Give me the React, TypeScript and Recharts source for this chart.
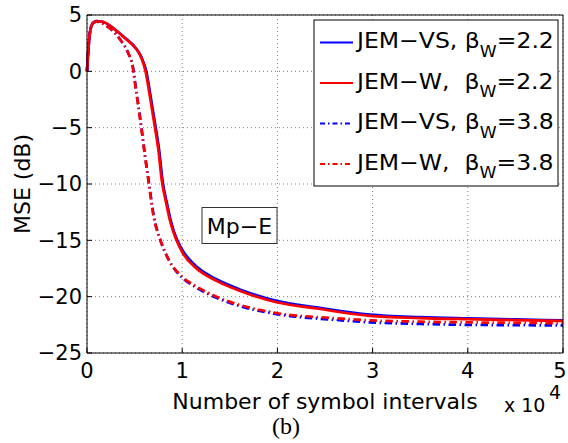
import React from 'react';
import { LineChart, Line, XAxis, YAxis, CartesianGrid } from 'recharts';

const xTicks = [0, 10000, 20000, 30000, 40000, 50000];
const yTicks = [-25, -20, -15, -10, -5, 0, 5];

// [symbol interval, MSE dB]
const vs22: [number, number][] = [
  [0, 0], [300, 3.4], [600, 4.26], [1000, 4.45], [1500, 4.42], [2000, 4.28], [2900, 3.74], [4000, 2.96],
  [5200, 1.98], [5750, 1.2], [6230, 0], [6680, -2.2], [7220, -5.0], [7580, -7.0], [7930, -9.65],
  [8450, -11.9], [8780, -13.2], [9480, -15.0], [10200, -16.1], [11600, -17.4], [13700, -18.5],
  [16200, -19.4], [20000, -20.4], [24100, -20.95], [29700, -21.6], [35000, -21.82], [40000, -21.93],
  [45000, -22.02], [50000, -22.1],
];
const w22: [number, number][] = [
  [0, 0], [300, 3.4], [600, 4.26], [1000, 4.45], [1500, 4.42], [2000, 4.28], [2900, 3.72], [4000, 2.93],
  [5200, 1.95], [5700, 1.2], [6150, 0], [6600, -2.2], [7140, -5.0], [7500, -7.0], [7850, -9.65],
  [8370, -11.9], [8700, -13.2], [9400, -15.0], [10100, -16.2], [11500, -17.5], [13600, -18.6],
  [16100, -19.5], [19900, -20.5], [24100, -21.05], [29700, -21.7], [35000, -21.9], [40000, -22.0],
  [45000, -22.08], [50000, -22.15],
];
const vs38: [number, number][] = [
  [0, 0], [300, 3.4], [600, 4.26], [1000, 4.42], [1500, 4.3], [2420, 3.81], [3470, 2.84], [4340, 1.6],
  [4820, 0.41], [4900, 0], [5070, -1.07], [5420, -3.14], [5770, -5.3], [6120, -7.58], [6470, -9.65],
  [7030, -12.9], [7700, -14.95], [8730, -16.95], [9980, -18.3], [11500, -19.2], [13600, -20.1],
  [16100, -20.85], [19900, -21.55], [25900, -22.05], [29700, -22.28], [35000, -22.42], [40000, -22.5],
  [45000, -22.53], [50000, -22.55],
];
const w38: [number, number][] = [
  [0, 0], [300, 3.4], [600, 4.26], [1000, 4.42], [1500, 4.3], [2420, 3.81], [3470, 2.84], [4340, 1.6],
  [4800, 0.41], [4870, 0], [5040, -1.07], [5390, -3.14], [5740, -5.3], [6090, -7.58], [6440, -9.65],
  [7000, -12.9], [7670, -14.9], [8700, -16.9], [9950, -18.2], [11500, -19.1], [13600, -20.0],
  [16100, -20.74], [19900, -21.45], [25900, -21.9], [29700, -22.1], [35000, -22.22], [40000, -22.28],
  [45000, -22.32], [50000, -22.35],
];

const seriesNames = ['JEM\u2212VS, \u03B2', 'JEM\u2212W,\u00A0 \u03B2', 'JEM\u2212VS, \u03B2', 'JEM\u2212W,\u00A0 \u03B2'];
const seriesBeta = ['2.2', '2.2', '3.8', '3.8'];
const seriesColors = ['#0000ff', '#ff0000', '#0000ff', '#ff0000'];
const seriesData = [vs22, w22, vs38, w38];
const seriesDashed = [false, false, true, true];

const FONT = "'DejaVu Sans', sans-serif";
const DASH = '7.5 3.5 1.5 3.5';

const toPts = (a: [number, number][]) => a.map(([x, y]) => ({ x, y }));

const XLabel = (props: any) => {
  const vb = props.viewBox || { x: 87, y: 353, width: 476, height: 90 };
  return (
    <text x={vb.x + vb.width / 2} y={vb.y + 55.5} textAnchor="middle" fontFamily={FONT} fontSize={22} fill="#000">
      Number of symbol intervals
    </text>
  );
};

const YLabel = (props: any) => {
  const vb = props.viewBox || { x: 0, y: 15, width: 87, height: 338 };
  const cx = 30;
  const cy = vb.y + vb.height / 2;
  return (
    <text x={cx} y={cy} transform={`rotate(-90 ${cx} ${cy})`} textAnchor="middle" fontFamily={FONT} fontSize={22} fill="#000">
      MSE (dB)
    </text>
  );
};

const XTick = (props: any) => {
  const { x, y, payload } = props;
  const last = payload.value === xTicks[xTicks.length - 1];
  return (
    <text x={last ? x - 3 : x} y={y} dy="0.71em" textAnchor="middle" fontFamily={FONT} fontSize={21} fill="#000">
      {String(payload.value / 10000)}
    </text>
  );
};

export default function App() {
  const tickStyle = { fill: '#000', fontSize: 21, fontFamily: FONT };
  const legendX = 314;
  const legendY = 20;
  const rowY = [42.5, 83, 123.5, 164];
  return (
    <div style={{ position: 'absolute', left: 0, top: 0, width: 568, height: 443, background: '#fff' }}>
      <LineChart width={568} height={443} margin={{ top: 14, right: 4, bottom: 0, left: 0 }}>
        <CartesianGrid stroke="#808080" strokeDasharray="1 3" />
        <XAxis
          xAxisId={0}
          dataKey="x"
          type="number"
          domain={[0, 50000]}
          ticks={xTicks}
          interval={0}
          height={90}
          tickSize={-5}
          tickMargin={15}
          stroke="#000"
          tick={XTick}
          label={XLabel}
        />
        <XAxis xAxisId="top" orientation="top" type="number" domain={[0, 50000]} ticks={xTicks} interval={0} height={1} tickSize={-5} tick={false} stroke="#000" />
        <YAxis
          yAxisId={0}
          type="number"
          domain={[-25, 5]}
          ticks={yTicks}
          interval={0}
          tickFormatter={(v: number) => String(v).replace('-', '\u2212')}
          width={87}
          tickSize={-5}
          tickMargin={10}
          stroke="#000"
          tick={tickStyle}
          label={YLabel}
        />
        <YAxis yAxisId="right" orientation="right" type="number" domain={[-25, 5]} ticks={yTicks} interval={0} width={1} tickSize={-5} tick={false} stroke="#000" />
        {seriesData.map((d, i) => (
          <Line
            key={i}
            xAxisId={0}
            yAxisId={0}
            data={toPts(d)}
            dataKey="y"
            type="monotone"
            dot={false}
            stroke={seriesColors[i]}
            strokeWidth={2.7}
            strokeDasharray={seriesDashed[i] ? DASH : undefined}
            isAnimationActive={false}
          />
        ))}
      </LineChart>
      <svg width={568} height={443} style={{ position: 'absolute', left: 0, top: 0, pointerEvents: 'none' }}>
        <rect x={legendX} y={legendY} width={244} height={166} fill="#fff" stroke="#000" strokeWidth={1} />
        {seriesNames.map((n, i) => (
          <g key={i}>
            <line x1={320} x2={353} y1={rowY[i]} y2={rowY[i]} stroke={seriesColors[i]} strokeWidth={2} strokeDasharray={seriesDashed[i] ? '5 3 1.5 3' : undefined} />
            <text transform={`translate(357 ${rowY[i] + 5.7}) scale(1.07 1)`} x={0} y={0} fontFamily={FONT} fontSize={22} fill="#000">
              {n}
              <tspan fontSize={16} dy={8.7}>W</tspan>
              <tspan dy={-8.7}>={seriesBeta[i]}</tspan>
            </text>
          </g>
        ))}
        <rect x={202} y={207.5} width={75} height={36} fill="#fff" stroke="#333" strokeWidth={1} />
        <text x={239.5} y={233.5} textAnchor="middle" fontFamily={FONT} fontSize={22} fill="#000">Mp{'\u2212'}E</text>
        <text x={504} y={411.5} fontFamily={FONT} fontSize={19} fill="#000">x 10</text>
        <text x={549} y={399} fontFamily={FONT} fontSize={19} fill="#000">4</text>
        <text x={286} y={434} textAnchor="middle" fontFamily="'Liberation Serif', serif" fontSize={24} fill="#000">(b)</text>
      </svg>
    </div>
  );
}
